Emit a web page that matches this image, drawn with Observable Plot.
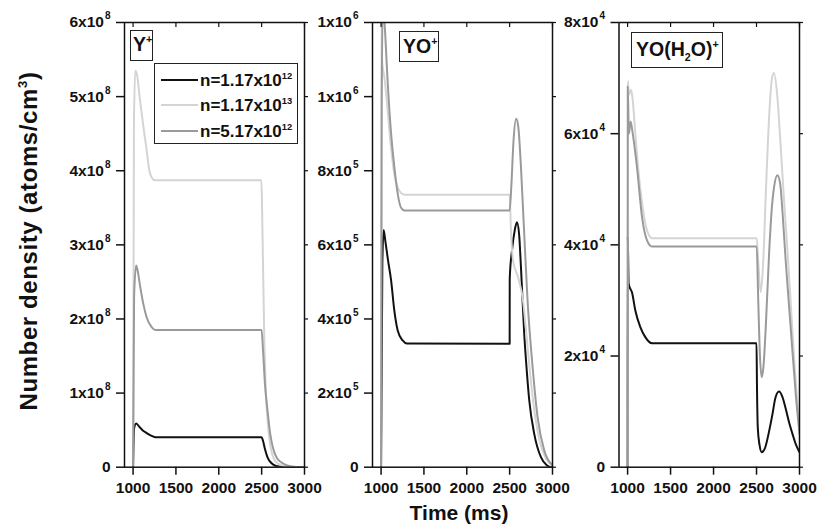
<!DOCTYPE html>
<html>
<head>
<meta charset="utf-8">
<script src="https://cdn.jsdelivr.net/npm/d3@7"></script>
<script src="https://cdn.jsdelivr.net/npm/@observablehq/plot@0.6"></script>
<style>
  html, body { margin: 0; padding: 0; background: #fff; }
  #chart { position: relative; width: 817px; height: 524px; background: #fff; overflow: hidden;
           font-family: "Liberation Sans", Arial, sans-serif; font-weight: bold; color: #111; }
  .pan { position: absolute; top: 0; }
  .pan svg { display: block; overflow: visible; background: transparent; }
  .lab { position: absolute; white-space: nowrap; }
  .box { position: absolute; border: 1px solid #222; background: #fff; box-sizing: border-box; }
  .sp { font-size: 0.55em; position: relative; top: -0.75em; }
  .sb { font-size: 0.55em; position: relative; top: 0.45em; }
</style>
</head>
<body>
<div id="chart"></div>
<script>
// ---------- data ----------
const seriesNames = ["n=1.17x10^12", "n=1.17x10^13", "n=5.17x10^12"];
const seriesColors = ["#111111", "#d4d4d4", "#9a9a9a"];
const xTicks = [1000, 1500, 2000, 2500, 3000];
const xDomain = [900, 3000];

// Panel 1: Y+
const yPlusTicks = [0, 1e8, 2e8, 3e8, 4e8, 5e8, 6e8];
const yPlusLabels = ["0", "1x10^8", "2x10^8", "3x10^8", "4x10^8", "5x10^8", "6x10^8"];
const yPlus_n1 = [[1000,0],[1012,5.2e7],[1035,5.9e7],[1070,5.5e7],[1110,5.0e7],[1160,4.6e7],[1210,4.25e7],[1260,4.05e7],[2500,4.05e7],[2515,3.6e7],[2540,2.4e7],[2570,1.3e7],[2610,0.6e7],[2660,0.2e7],[2720,0.05e7],[2800,0],[3000,0]];
const yPlus_n2 = [[1000,0],[1010,4.6e8],[1025,5.35e8],[1045,5.3e8],[1081,4.95e8],[1120,4.6e8],[1159,4.27e8],[1190,4.0e8],[1217,3.91e8],[1256,3.87e8],[2497,3.87e8],[2505,3.5e8],[2515,2.8e8],[2530,1.8e8],[2550,1.0e8],[2575,0.55e8],[2600,0.3e8],[2650,0.1e8],[2700,0.04e8],[2800,0.01e8],[3000,0]];
const yPlus_n3 = [[1000,0],[1012,2.3e8],[1035,2.72e8],[1052,2.66e8],[1081,2.45e8],[1120,2.2e8],[1159,2.02e8],[1217,1.89e8],[1260,1.85e8],[2500,1.85e8],[2515,1.6e8],[2540,1.1e8],[2570,0.75e8],[2600,0.45e8],[2630,0.27e8],[2680,0.12e8],[2750,0.05e8],[2850,0.01e8],[3000,0]];

// Panel 2: YO+
const yoTicks = [0, 2e5, 4e5, 6e5, 8e5, 1e6, 1.2e6];
const yoLabels = ["0", "2x10^5", "4x10^5", "6x10^5", "8x10^5", "1x10^6", "1x10^6"];
const yo_n1 = [[1000,0],[1015,5.5e5],[1030,6.4e5],[1050,6.1e5],[1080,5.6e5],[1117,5.04e5],[1155,4.22e5],[1194,3.69e5],[1252,3.42e5],[1300,3.34e5],[2500,3.33e5],[2501,5.1e5],[2530,5.9e5],[2560,6.4e5],[2585,6.61e5],[2610,6.3e5],[2632,5.4e5],[2670,3.6e5],[2700,2.6e5],[2729,1.8e5],[2787,0.9e5],[2865,0.27e5],[2930,0.06e5],[2990,0],[3000,0]];
const yo_n2 = [[1000,0],[1003,1.3e6],[1010,1.1e6],[1040,1.05e6],[1078,9.6e5],[1117,8.6e5],[1155,7.9e5],[1194,7.55e5],[1233,7.4e5],[1280,7.35e5],[2500,7.35e5],[2515,6.4e5],[2540,5.57e5],[2598,5.13e5],[2656,4.5e5],[2695,3.6e5],[2740,2.5e5],[2790,1.5e5],[2850,0.7e5],[2920,0.25e5],[3000,0.05e5]];
const yo_n3 = [[1000,0],[1008,1.0e6],[1020,1.25e6],[1040,1.2e6],[1078,1.035e6],[1117,9.0e5],[1155,8.1e5],[1194,7.38e5],[1233,7.0e5],[1271,6.93e5],[2500,6.93e5],[2520,7.6e5],[2545,8.8e5],[2575,9.4e5],[2600,9.2e5],[2632,8.1e5],[2670,6.3e5],[2709,4.5e5],[2768,2.7e5],[2826,1.35e5],[2904,0.45e5],[3000,0.05e5]];

// Panel 3: YO(H2O)+
const yohTicks = [0, 2e4, 4e4, 6e4, 8e4];
const yohLabels = ["0", "2x10^4", "4x10^4", "6x10^4", "8x10^4"];
const yoh_n1 = [[1000,0],[1002,4.15e4],[1012,3.3e4],[1035,3.2e4],[1050,3.15e4],[1090,2.82e4],[1148,2.52e4],[1206,2.34e4],[1284,2.23e4],[2500,2.23e4],[2505,1.5e4],[2515,0.7e4],[2535,0.4e4],[2560,0.27e4],[2600,0.35e4],[2640,0.6e4],[2685,0.95e4],[2720,1.25e4],[2762,1.36e4],[2800,1.27e4],[2840,1.05e4],[2880,0.8e4],[2918,0.6e4],[2960,0.4e4],[3000,0.27e4]];
const yoh_n2 = [[1000,0],[1003,6.95e4],[1015,6.7e4],[1040,6.79e4],[1060,6.6e4],[1090,6.0e4],[1129,5.28e4],[1175,4.68e4],[1226,4.26e4],[1284,4.12e4],[2502,4.12e4],[2520,3.7e4],[2548,3.15e4],[2575,3.6e4],[2610,5.0e4],[2650,6.4e4],[2680,7.0e4],[2704,7.09e4],[2740,6.7e4],[2780,5.8e4],[2820,4.8e4],[2860,3.9e4],[2900,2.9e4],[2940,1.9e4],[2975,1.15e4],[3000,0.7e4]];
const yoh_n3 = [[1000,0],[1002,6.85e4],[1015,6.0e4],[1035,6.22e4],[1060,6.0e4],[1109,5.4e4],[1168,4.5e4],[1226,4.08e4],[1284,3.97e4],[2502,3.97e4],[2520,3.0e4],[2540,2.0e4],[2560,1.62e4],[2580,1.8e4],[2610,2.6e4],[2646,3.84e4],[2680,4.7e4],[2704,5.04e4],[2743,5.25e4],[2775,5.1e4],[2802,4.6e4],[2840,3.7e4],[2898,2.5e4],[2957,1.3e4],[3000,0.6e4]];

// ---------- drawing ----------
const chart = document.getElementById("chart");
const FONT = '"Liberation Sans", Arial, sans-serif';

function rows(list) {
  const out = [];
  list.forEach((arr, i) => arr.forEach(([t, v]) => out.push({t, v, s: seriesNames[i]})));
  return out;
}

function supTicks(svg) {
  svg.querySelectorAll('g[aria-label="y-axis tick label"] text').forEach(el => {
    const txt = el.textContent;
    if (!txt.includes("^")) return;
    const [base, exp] = txt.split("^");
    el.textContent = "";
    const t1 = document.createElementNS("http://www.w3.org/2000/svg", "tspan");
    t1.textContent = base;
    const t2 = document.createElementNS("http://www.w3.org/2000/svg", "tspan");
    t2.textContent = exp;
    t2.setAttribute("font-size", "10");
    t2.setAttribute("dy", "-8");
    t2.setAttribute("dx", "1");
    el.appendChild(t1); el.appendChild(t2);
  });
}

function panel({left, marginLeft, frameWidth, marginRight, yMax, yTicks, yLabels, data}) {
  const svg = Plot.plot({
    width: marginLeft + frameWidth + marginRight,
    height: 524,
    marginTop: 22, marginBottom: 57.3, marginLeft, marginRight,
    x: {domain: xDomain},
    y: {domain: [0, yMax]},
    color: {domain: seriesNames, range: seriesColors},
    style: {fontFamily: FONT, fontSize: "15.5px", fontWeight: "bold", color: "#111", background: "transparent", overflow: "visible"},
    marks: [
      Plot.line(rows(data), {x: "t", y: "v", z: "s", stroke: "s", strokeWidth: 2, curve: "monotone-x", clip: true}),
      Plot.frame({stroke: "#111", strokeWidth: 1.5}),
      Plot.axisX({ticks: xTicks, tickSize: 8, tickPadding: 7, label: null, strokeWidth: 1.5, tickFormat: d => String(d)}),
      Plot.axisX({anchor: "top", ticks: xTicks, tickSize: -4, label: null, strokeWidth: 1.2, tickFormat: () => ""}),
      Plot.axisY({ticks: yTicks, tickSize: 8, tickPadding: 6, label: null, strokeWidth: 1.5, tickFormat: d => yLabels[yTicks.indexOf(d)]}),
      Plot.axisY({anchor: "right", ticks: yTicks, tickSize: 3, label: null, strokeWidth: 1.2, tickFormat: () => ""})
    ]
  });
  supTicks(svg);
  const div = document.createElement("div");
  div.className = "pan";
  div.style.left = left + "px";
  div.appendChild(svg);
  chart.appendChild(div);
}

panel({left: 0, marginLeft: 124, frameWidth: 180, marginRight: 6, yMax: 6e8, yTicks: yPlusTicks, yLabels: yPlusLabels, data: [yPlus_n1, yPlus_n2, yPlus_n3]});
panel({left: 310, marginLeft: 62, frameWidth: 180, marginRight: 5, yMax: 1.2e6, yTicks: yoTicks, yLabels: yoLabels, data: [yo_n1, yo_n2, yo_n3]});
panel({left: 557, marginLeft: 61.5, frameWidth: 180.5, marginRight: 18, yMax: 8e4, yTicks: yohTicks, yLabels: yohLabels, data: [yoh_n1, yoh_n2, yoh_n3]});

// ---------- text overlays ----------
function addHTML(html, css, cls) {
  const d = document.createElement("div");
  d.className = cls || "lab";
  d.innerHTML = html;
  Object.assign(d.style, css);
  chart.appendChild(d);
  return d;
}
function supHTML(s) {
  const [b, e] = s.split("^");
  return e ? `${b}<span class="sp">${e}</span>` : b;
}

// y-axis title
addHTML('Number density (atoms/cm<span class="sp">3</span>)',
  {left: "29px", top: "241px", fontSize: "24px", letterSpacing: "0.6px", transform: "translate(-50%,-50%) rotate(-90deg)", lineHeight: "1"});
// x-axis title
addHTML('Time (ms)', {left: "459px", top: "502px", fontSize: "21px", transform: "translateX(-50%)", lineHeight: "1"});

// species boxes
addHTML('<div style="position:absolute;left:2px;top:4px;line-height:1">Y<span class="sp">+</span></div>',
  {left: "130px", top: "30px", width: "23px", height: "31px", fontSize: "19.5px"}, "box");
addHTML('<div style="position:absolute;left:3px;top:5px;line-height:1">YO<span class="sp">+</span></div>',
  {left: "399px", top: "31px", width: "40px", height: "31px", fontSize: "19.5px"}, "box");
addHTML('<div style="position:absolute;left:4px;top:7px;line-height:1">YO(H<span class="sb">2</span>O)<span class="sp">+</span></div>',
  {left: "631px", top: "32px", width: "92px", height: "36px", fontSize: "19.5px"}, "box");

// legend
const leg = addHTML('', {left: "154px", top: "63px", width: "144px", height: "81px", fontSize: "17px"}, "box");
seriesNames.forEach((name, i) => {
  const row = document.createElement("div");
  row.style.cssText = `position:absolute;left:0;top:${6 + i * 25.3}px;height:20px;width:100%;line-height:20px;white-space:nowrap;`;
  row.innerHTML = `<span style="position:absolute;left:6px;top:9px;width:37px;height:0;border-top:2px solid ${seriesColors[i]}"></span>` +
    `<span style="position:absolute;left:45px;top:1px">${supHTML(name)}</span>`;
  leg.appendChild(row);
});
</script>
</body>
</html>
